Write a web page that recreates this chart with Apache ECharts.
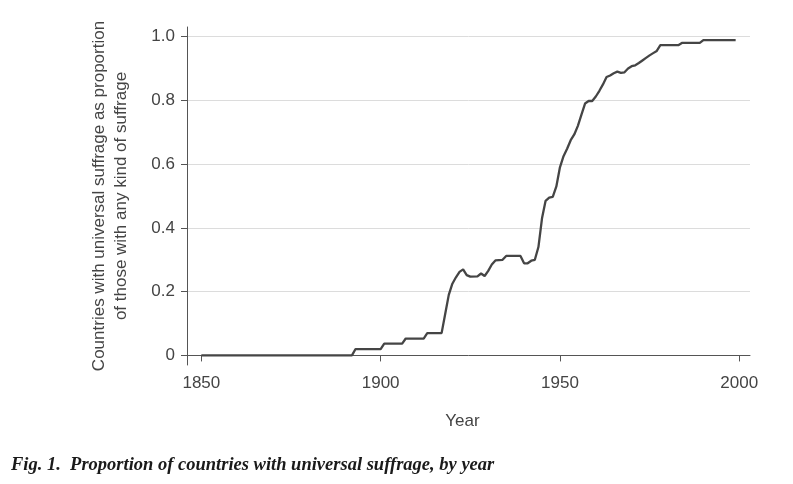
<!DOCTYPE html>
<html>
<head>
<meta charset="utf-8">
<script src="https://cdn.jsdelivr.net/npm/echarts@6/dist/echarts.min.js"></script>
<style>
  html, body { margin: 0; padding: 0; background: #fff; }
  #chart { width: 793px; height: 484px; }
</style>
</head>
<body>
<div id="chart"></div>
<script>
// breakpoints of the curve
var years = [1850, 1892, 1893, 1900, 1901, 1906, 1907, 1912, 1913, 1917,
  1918, 1919, 1920, 1921, 1922, 1923, 1924, 1925, 1927, 1928,
  1929, 1930, 1931, 1932, 1934, 1935, 1939, 1940, 1941, 1942,
  1943, 1944, 1945, 1946, 1947, 1948, 1949, 1950, 1951, 1952,
  1953, 1954, 1955, 1956, 1957, 1958, 1959, 1960, 1961, 1962,
  1963, 1964, 1965, 1966, 1967, 1968, 1969, 1970, 1971, 1972,
  1973, 1974, 1975, 1976, 1977, 1978, 1983, 1984, 1989, 1990, 1999];
var share = [0, 0, 0.02, 0.02, 0.037, 0.037, 0.053, 0.053, 0.07, 0.07,
  0.13, 0.19, 0.225, 0.245, 0.262, 0.27, 0.252, 0.247, 0.248, 0.257,
  0.249, 0.265, 0.285, 0.298, 0.3, 0.312, 0.312, 0.289, 0.289, 0.297,
  0.3, 0.34, 0.43, 0.485, 0.495, 0.497, 0.53, 0.59, 0.625, 0.648,
  0.675, 0.693, 0.72, 0.755, 0.79, 0.798, 0.798, 0.812, 0.83, 0.85,
  0.873, 0.878, 0.885, 0.89, 0.886, 0.888, 0.9, 0.907, 0.91, 0.917,
  0.925, 0.933, 0.941, 0.948, 0.955, 0.973, 0.973, 0.98, 0.98, 0.989, 0.989];
var xTicks = [1850, 1900, 1950, 2000];
var yTicks = [0, 0.2, 0.4, 0.6, 0.8, 1.0];

var chartDom = document.getElementById('chart');
var chart = echarts.init(chartDom, null, { renderer: 'canvas' });

var points = years.map(function (y, i) { return [y, share[i]]; });

var option = {
  animation: false,
  backgroundColor: '#fff',
  title: {
    text: 'Fig. 1.  Proportion of countries with universal suffrage, by year',
    left: 6,
    top: 451,
    textStyle: {
      fontFamily: 'Liberation Serif',
      fontStyle: 'italic',
      fontWeight: 'bold',
      fontSize: 18.5,
      color: '#1a1a1a'
    }
  },
  grid: { left: 187, top: 27, width: 563, bottom: 119 },
  xAxis: {
    type: 'value',
    min: 1846,
    max: 2003,
    name: 'Year',
    nameLocation: 'middle',
    nameGap: 48,
    nameTextStyle: { fontFamily: 'Liberation Sans', fontSize: 17, color: '#444', padding: [0, 12, 0, 0] },
    axisLine: { lineStyle: { color: '#555', width: 1 } },
    axisTick: { customValues: xTicks, length: 6, lineStyle: { color: '#555' } },
    axisLabel: {
      customValues: xTicks,
      fontFamily: 'Liberation Sans',
      fontSize: 17,
      color: '#444',
      margin: 10,
      formatter: function (v) { return String(v); }
    },
    splitLine: { show: false }
  },
  yAxis: {
    type: 'value',
    min: -0.03,
    max: 1.03,
    name: 'Countries with universal suffrage as proportion\nof those with any kind of suffrage',
    nameLocation: 'middle',
    nameGap: 45,
    nameRotate: 90,
    nameTextStyle: { fontFamily: 'Liberation Sans', fontSize: 17, color: '#444', lineHeight: 22, padding: [0, 0, 8, 0] },
    axisLine: { show: true, lineStyle: { color: '#555', width: 1 } },
    axisTick: { show: true, customValues: yTicks, length: 6, lineStyle: { color: '#555' } },
    axisLabel: {
      customValues: yTicks,
      fontFamily: 'Liberation Sans',
      fontSize: 17,
      color: '#444',
      margin: 12,
      formatter: function (v) { return v === 0 ? '0' : v.toFixed(1); }
    },
    splitLine: { show: true, lineStyle: { color: '#dcdcdc', width: 1 } }
  },
  series: [
    {
      type: 'line',
      data: points,
      showSymbol: false,
      lineStyle: { color: '#454545', width: 2.3 },
      z: 3
    }
  ]
};

chart.setOption(option);
</script>
</body>
</html>
